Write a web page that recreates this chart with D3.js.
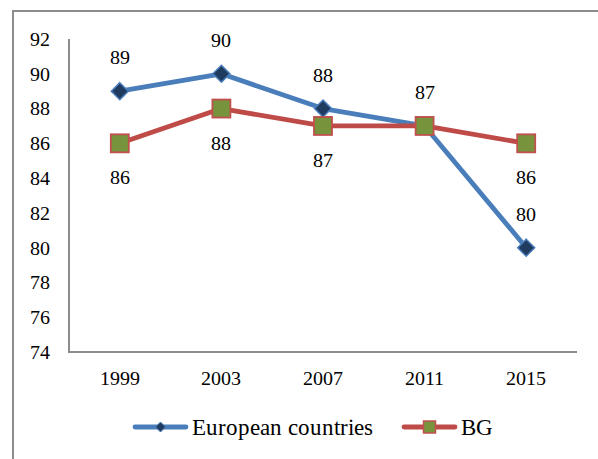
<!DOCTYPE html>
<html>
<head>
<meta charset="utf-8">
<script src="https://cdn.jsdelivr.net/npm/d3@7"></script>
<style>
  @font-face {
    font-family: ChartSerif;
    src: local("Liberation Serif"), local("LiberationSerif"), local("LiberationSerif-Regular"), local("Tinos"), local("FreeSerif");
  }
  html, body { margin: 0; padding: 0; background: #fff; }
  svg { display: block; }
  svg text { font-family: ChartSerif, "Liberation Serif", serif; }
</style>
</head>
<body>
<svg id="chart" width="598" height="459"></svg>
<script>
// Survey years on the x axis
const years = ["1999", "2003", "2007", "2011", "2015"];
// Series values
const europeValues = [89, 90, 88, 87, 80];
const bgValues = [86, 88, 87, 87, 86];
// Which value labels are drawn for BG (2011 shares the label with the other series)
const bgLabelShown = [true, true, true, false, true];
// Y axis ticks
const yTicks = [74, 76, 78, 80, 82, 84, 86, 88, 90, 92];
const seriesNames = ["European countries", "BG"];

(function () {
const svg = d3.select("#chart");
const FONT = "ChartSerif, Liberation Serif, serif";

// Outer frame
svg.append("path")
  .attr("d", "M13,459 L13,11 L598,11")
  .attr("fill", "none")
  .attr("stroke", "#8c8c8c")
  .attr("stroke-width", 2);

const plotLeft = 69, plotRight = 577, plotTop = 39, plotBottom = 352;

const x = d3.scaleBand().domain(years).range([plotLeft, plotRight]);
const y = d3.scaleLinear().domain([74, 92]).range([plotBottom, plotTop]);
const cx = d => x(d) + x.bandwidth() / 2;

// Axes
const yAxis = svg.append("g")
  .attr("transform", `translate(${plotLeft},0)`)
  .call(d3.axisLeft(y).tickValues(yTicks).tickSize(0).tickPadding(19));
const xAxis = svg.append("g")
  .attr("transform", `translate(0,${plotBottom})`)
  .call(d3.axisBottom(x).tickSize(0).tickPadding(15));

[yAxis, xAxis].forEach(g => {
  g.attr("font-family", FONT).attr("font-size", 20);
  g.select(".domain").attr("stroke", "#8c8c8c").attr("stroke-width", 2);
  g.selectAll("text")
    .style("font-family", FONT)
    .style("font-size", "20px")
    .attr("fill", "#000");
});
yAxis.select(".domain").attr("d", `M0,${plotTop}V${plotBottom + 1}`);
xAxis.select(".domain").attr("d", `M${plotLeft},0H${plotRight}`);
xAxis.selectAll("text").attr("dy", "0.9em");

const line = d3.line().x((d, i) => cx(years[i])).y(d => y(d));

function diamondPath(r) {
  return `M0,${-r}L${r},0L0,${r}L${-r},0Z`;
}

// European countries series
svg.append("path")
  .datum(europeValues)
  .attr("d", line)
  .attr("fill", "none")
  .attr("stroke", "#4A7EBB")
  .attr("stroke-width", 4.8)
  .attr("stroke-linejoin", "round");

svg.selectAll(".eu-mark")
  .data(europeValues)
  .join("path")
  .attr("class", "eu-mark")
  .attr("transform", (d, i) => `translate(${cx(years[i])},${y(d)})`)
  .attr("d", diamondPath(8.5))
  .attr("fill", "#203B60")
  .attr("stroke", "#4A7EBB")
  .attr("stroke-width", 1.5);

svg.selectAll(".eu-label")
  .data(europeValues)
  .join("text")
  .attr("class", "eu-label")
  .attr("x", (d, i) => cx(years[i]))
  .attr("y", d => y(d) - 34)
  .attr("dy", "0.35em")
  .attr("text-anchor", "middle")
  .style("font-family", FONT)
  .style("font-size", "20px")
  .text(d => d);

// BG series
svg.append("path")
  .datum(bgValues)
  .attr("d", line)
  .attr("fill", "none")
  .attr("stroke", "#BE4B48")
  .attr("stroke-width", 4.8)
  .attr("stroke-linejoin", "round");

svg.selectAll(".bg-mark")
  .data(bgValues)
  .join("rect")
  .attr("class", "bg-mark")
  .attr("x", (d, i) => cx(years[i]) - 9)
  .attr("y", d => y(d) - 9)
  .attr("width", 18)
  .attr("height", 18)
  .attr("fill", "#77933C")
  .attr("stroke", "#C0504D")
  .attr("stroke-width", 1.8);

svg.selectAll(".bg-label")
  .data(bgValues.map((v, i) => ({ v, i })).filter(d => bgLabelShown[d.i]))
  .join("text")
  .attr("class", "bg-label")
  .attr("x", d => cx(years[d.i]))
  .attr("y", d => y(d.v) + 34)
  .attr("dy", "0.35em")
  .attr("text-anchor", "middle")
  .style("font-family", FONT)
  .style("font-size", "20px")
  .text(d => d.v);

// Legend
const legend = svg.append("g");
const legendY = 427;
const legendItems = [
  { name: seriesNames[0], x0: 133, color: "#4A7EBB", kind: "diamond" },
  { name: seriesNames[1], x0: 402, color: "#BE4B48", kind: "square" }
];
legendItems.forEach(it => {
  legend.append("line")
    .attr("x1", it.x0 + 2).attr("x2", it.x0 + 53)
    .attr("y1", legendY).attr("y2", legendY)
    .attr("stroke", it.color)
    .attr("stroke-width", 4.8)
    .attr("stroke-linecap", "round");
  const mx = it.x0 + 27.5;
  if (it.kind === "diamond") {
    legend.append("path")
      .attr("transform", `translate(${mx},${legendY})`)
      .attr("d", diamondPath(5))
      .attr("fill", "#203B60")
      .attr("stroke", "#4A7EBB")
      .attr("stroke-width", 1);
  } else {
    legend.append("rect")
      .attr("x", mx - 6).attr("y", legendY - 6)
      .attr("width", 12).attr("height", 12)
      .attr("fill", "#77933C")
      .attr("stroke", "#C0504D")
      .attr("stroke-width", 1.5);
  }
  legend.append("text")
    .attr("x", it.x0 + 59)
    .attr("y", legendY)
    .attr("dy", "0.33em")
    .style("font-family", FONT)
    .style("font-size", "23px")
    .text(it.name);
});
})();
</script>
</body>
</html>
